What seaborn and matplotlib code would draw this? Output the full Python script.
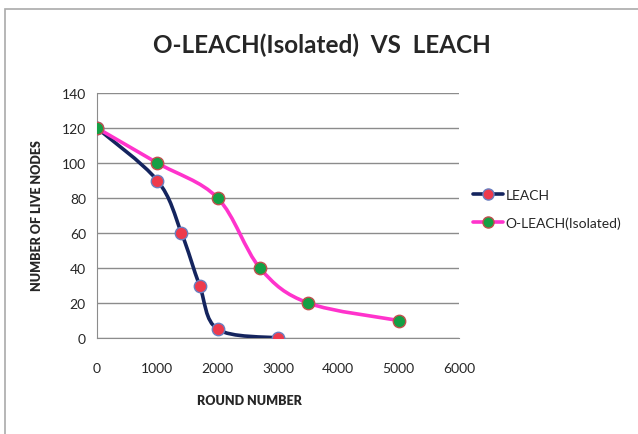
import numpy as np
import pandas as pd
import seaborn as sns
import matplotlib.pyplot as plt
from matplotlib.path import Path
from matplotlib.patches import PathPatch, Rectangle
from matplotlib.lines import Line2D

# dados
leach_rounds = [0, 1000, 1400, 1700, 2000, 3000]
leach_nodes = [120, 90, 60, 30, 5, 0]
oleach_rounds = [0, 1000, 2000, 2700, 3500, 5000]
oleach_nodes = [120, 100, 80, 40, 20, 10]

x_ticks = [0, 1000, 2000, 3000, 4000, 5000, 6000]
y_ticks = [0, 20, 40, 60, 80, 100, 120, 140]

sns.set_style('white')
plt.rcParams['font.family'] = ['Lato', 'DejaVu Sans']

cor_leach = '#14245e'
cor_oleach = '#ff33cc'


def curva_suave(xs, ys):
    # linha suavizada estilo Excel (bezier cubica a partir dos pontos)
    pts = np.column_stack([xs, ys]).astype(float)
    verts = [pts[0]]
    codes = [Path.MOVETO]
    n = len(pts)
    for i in range(n - 1):
        p0 = pts[i - 1] if i > 0 else pts[i]
        p1 = pts[i]
        p2 = pts[i + 1]
        p3 = pts[i + 2] if i + 2 < n else pts[i + 1]
        c1 = p1 + (p2 - p0) / 6
        c2 = p2 - (p3 - p1) / 6
        verts += [c1, c2, p2]
        codes += [Path.CURVE4] * 3
    return Path(verts, codes)


df = pd.concat([
    pd.DataFrame({'round': leach_rounds, 'nodes': leach_nodes, 'serie': 'LEACH'}),
    pd.DataFrame({'round': oleach_rounds, 'nodes': oleach_nodes, 'serie': 'O-LEACH(Isolated)'}),
])

fig = plt.figure(figsize=(6.38, 4.35), dpi=100)
ax = fig.add_axes([97 / 638, 1 - 339 / 435, 362 / 638, 245 / 435])

# linhas suaves
ax.add_patch(PathPatch(curva_suave(leach_rounds, leach_nodes), fill=False,
                       edgecolor=cor_leach, lw=2.6, zorder=3))
ax.add_patch(PathPatch(curva_suave(oleach_rounds, oleach_nodes), fill=False,
                       edgecolor=cor_oleach, lw=2.6, zorder=3))

# marcadores
sns.scatterplot(data=df[df['serie'] == 'LEACH'], x='round', y='nodes', ax=ax,
                color='#ee3a4c', edgecolor='#6a7fc0', s=80, linewidth=1, zorder=4, legend=False)
sns.scatterplot(data=df[df['serie'] != 'LEACH'], x='round', y='nodes', ax=ax,
                color='#14a045', edgecolor='#c0504d', s=80, linewidth=1, zorder=4, legend=False)

ax.set_xlim(0, 6000)
ax.set_ylim(0, 140)
ax.set_xticks(x_ticks)
ax.set_yticks(y_ticks)
ax.set_xticklabels([str(t) for t in x_ticks], fontsize=10)
ax.set_yticklabels([str(t) for t in y_ticks], fontsize=10)
ax.tick_params(axis='x', direction='out', length=5, color='#888888', pad=12)
ax.tick_params(axis='y', direction='out', length=5, color='#888888', pad=3)
ax.yaxis.grid(True, color='#8c8c8c', lw=1)
ax.xaxis.grid(False)
ax.set_axisbelow(True)
for lado in ['top', 'right']:
    ax.spines[lado].set_visible(False)
for lado in ['left', 'bottom']:
    ax.spines[lado].set_color('#8c8c8c')
ax.set_xlabel('')
ax.set_ylabel('')

fig.text(322 / 638, 1 - 45 / 435, 'O-LEACH(Isolated)  VS  LEACH', ha='center', va='center',
         fontsize=17.5, fontweight='bold')
fig.text(249 / 638, 1 - 401 / 435, 'ROUND NUMBER', ha='center', va='center',
         fontsize=9, fontweight='heavy')
fig.text(37 / 638, 1 - 216 / 435, 'NUMBER OF LIVE NODES', ha='center', va='center',
         fontsize=9, fontweight='heavy', rotation=90)

# legenda
handles = [
    Line2D([0], [0], color=cor_leach, lw=2.6, marker='o', markersize=8,
           markerfacecolor='#ee3a4c', markeredgecolor='#6a7fc0'),
    Line2D([0], [0], color=cor_oleach, lw=2.6, marker='o', markersize=8,
           markerfacecolor='#14a045', markeredgecolor='#c0504d'),
]
fig.legend(handles, ['LEACH', 'O-LEACH(Isolated)'], loc='center left',
           bbox_to_anchor=(460 / 638, 1 - 210 / 435), frameon=False, fontsize=10,
           handlelength=2.2, handletextpad=0.2, labelspacing=1.1)

# borda da area do grafico (so topo e esquerda aparecem)
fig.patches.append(Rectangle((5 / 638, -0.1), 1.2, 1.1 - 10 / 435, transform=fig.transFigure,
                             fill=False, edgecolor='#aaaaaa', lw=1.2))

fig.savefig('out.png', dpi=100)
